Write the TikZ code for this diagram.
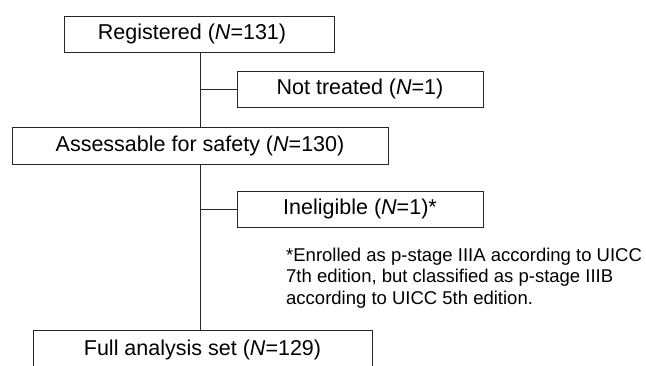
\documentclass[tikz,border=0pt]{standalone}
\usepackage{fontspec}
\setmainfont{Liberation Sans}
\usetikzlibrary{positioning}

\begin{document}
\begin{tikzpicture}[
    x=1pt, y=-1pt,
    stage/.style={rectangle, draw=black!85, line width=0.9pt, minimum height=36pt, inner sep=0pt, align=center, font=\fontsize{21.5}{24}\selectfont},
    link/.style={draw=black!85, line width=0.9pt}
]

% ==== frame ====
\clip (0,0) rectangle (646,366);
\fill[white] (0,0) rectangle (646,366);

% ==== main flow ====
\node[stage, minimum width=270pt] (registered) at (199,34) {Registered ({\itshape N}=131)\hspace*{14pt}};
\node[stage, minimum width=376pt, minimum height=37pt] (assessable) at (200,145.5) {Assessable for safety ({\itshape N}=130)};
\node[stage, minimum width=339pt, minimum height=39pt] (fullset) at (202.5,349.5) {Full analysis set ({\itshape N}=129)};

% ==== exclusions ====
\node[stage, minimum width=246pt] (nottreated) at (360,89) {Not treated ({\itshape N}=1)};
\node[stage, minimum width=246pt] (ineligible) at (360,209) {Ineligible ({\itshape N}=1)*};

\node[anchor=north west, inner sep=0pt, align=left, font=\fontsize{18.5}{21.8}\selectfont] (footnote) at (286,247.5)
    {*Enrolled as p-stage IIIA according to UICC\\7th edition, but classified as p-stage IIIB\\according to UICC 5th edition.};

% ==== lines ====
\draw[link] (assessable.north |- registered.south) -- (assessable.north);
\draw[link] (assessable.south) -- (assessable.south |- fullset.north);
\draw[link] (nottreated.west) -- (nottreated.west -| assessable.north);
\draw[link] (ineligible.west) -- (ineligible.west -| assessable.south);

\end{tikzpicture}
\end{document}
